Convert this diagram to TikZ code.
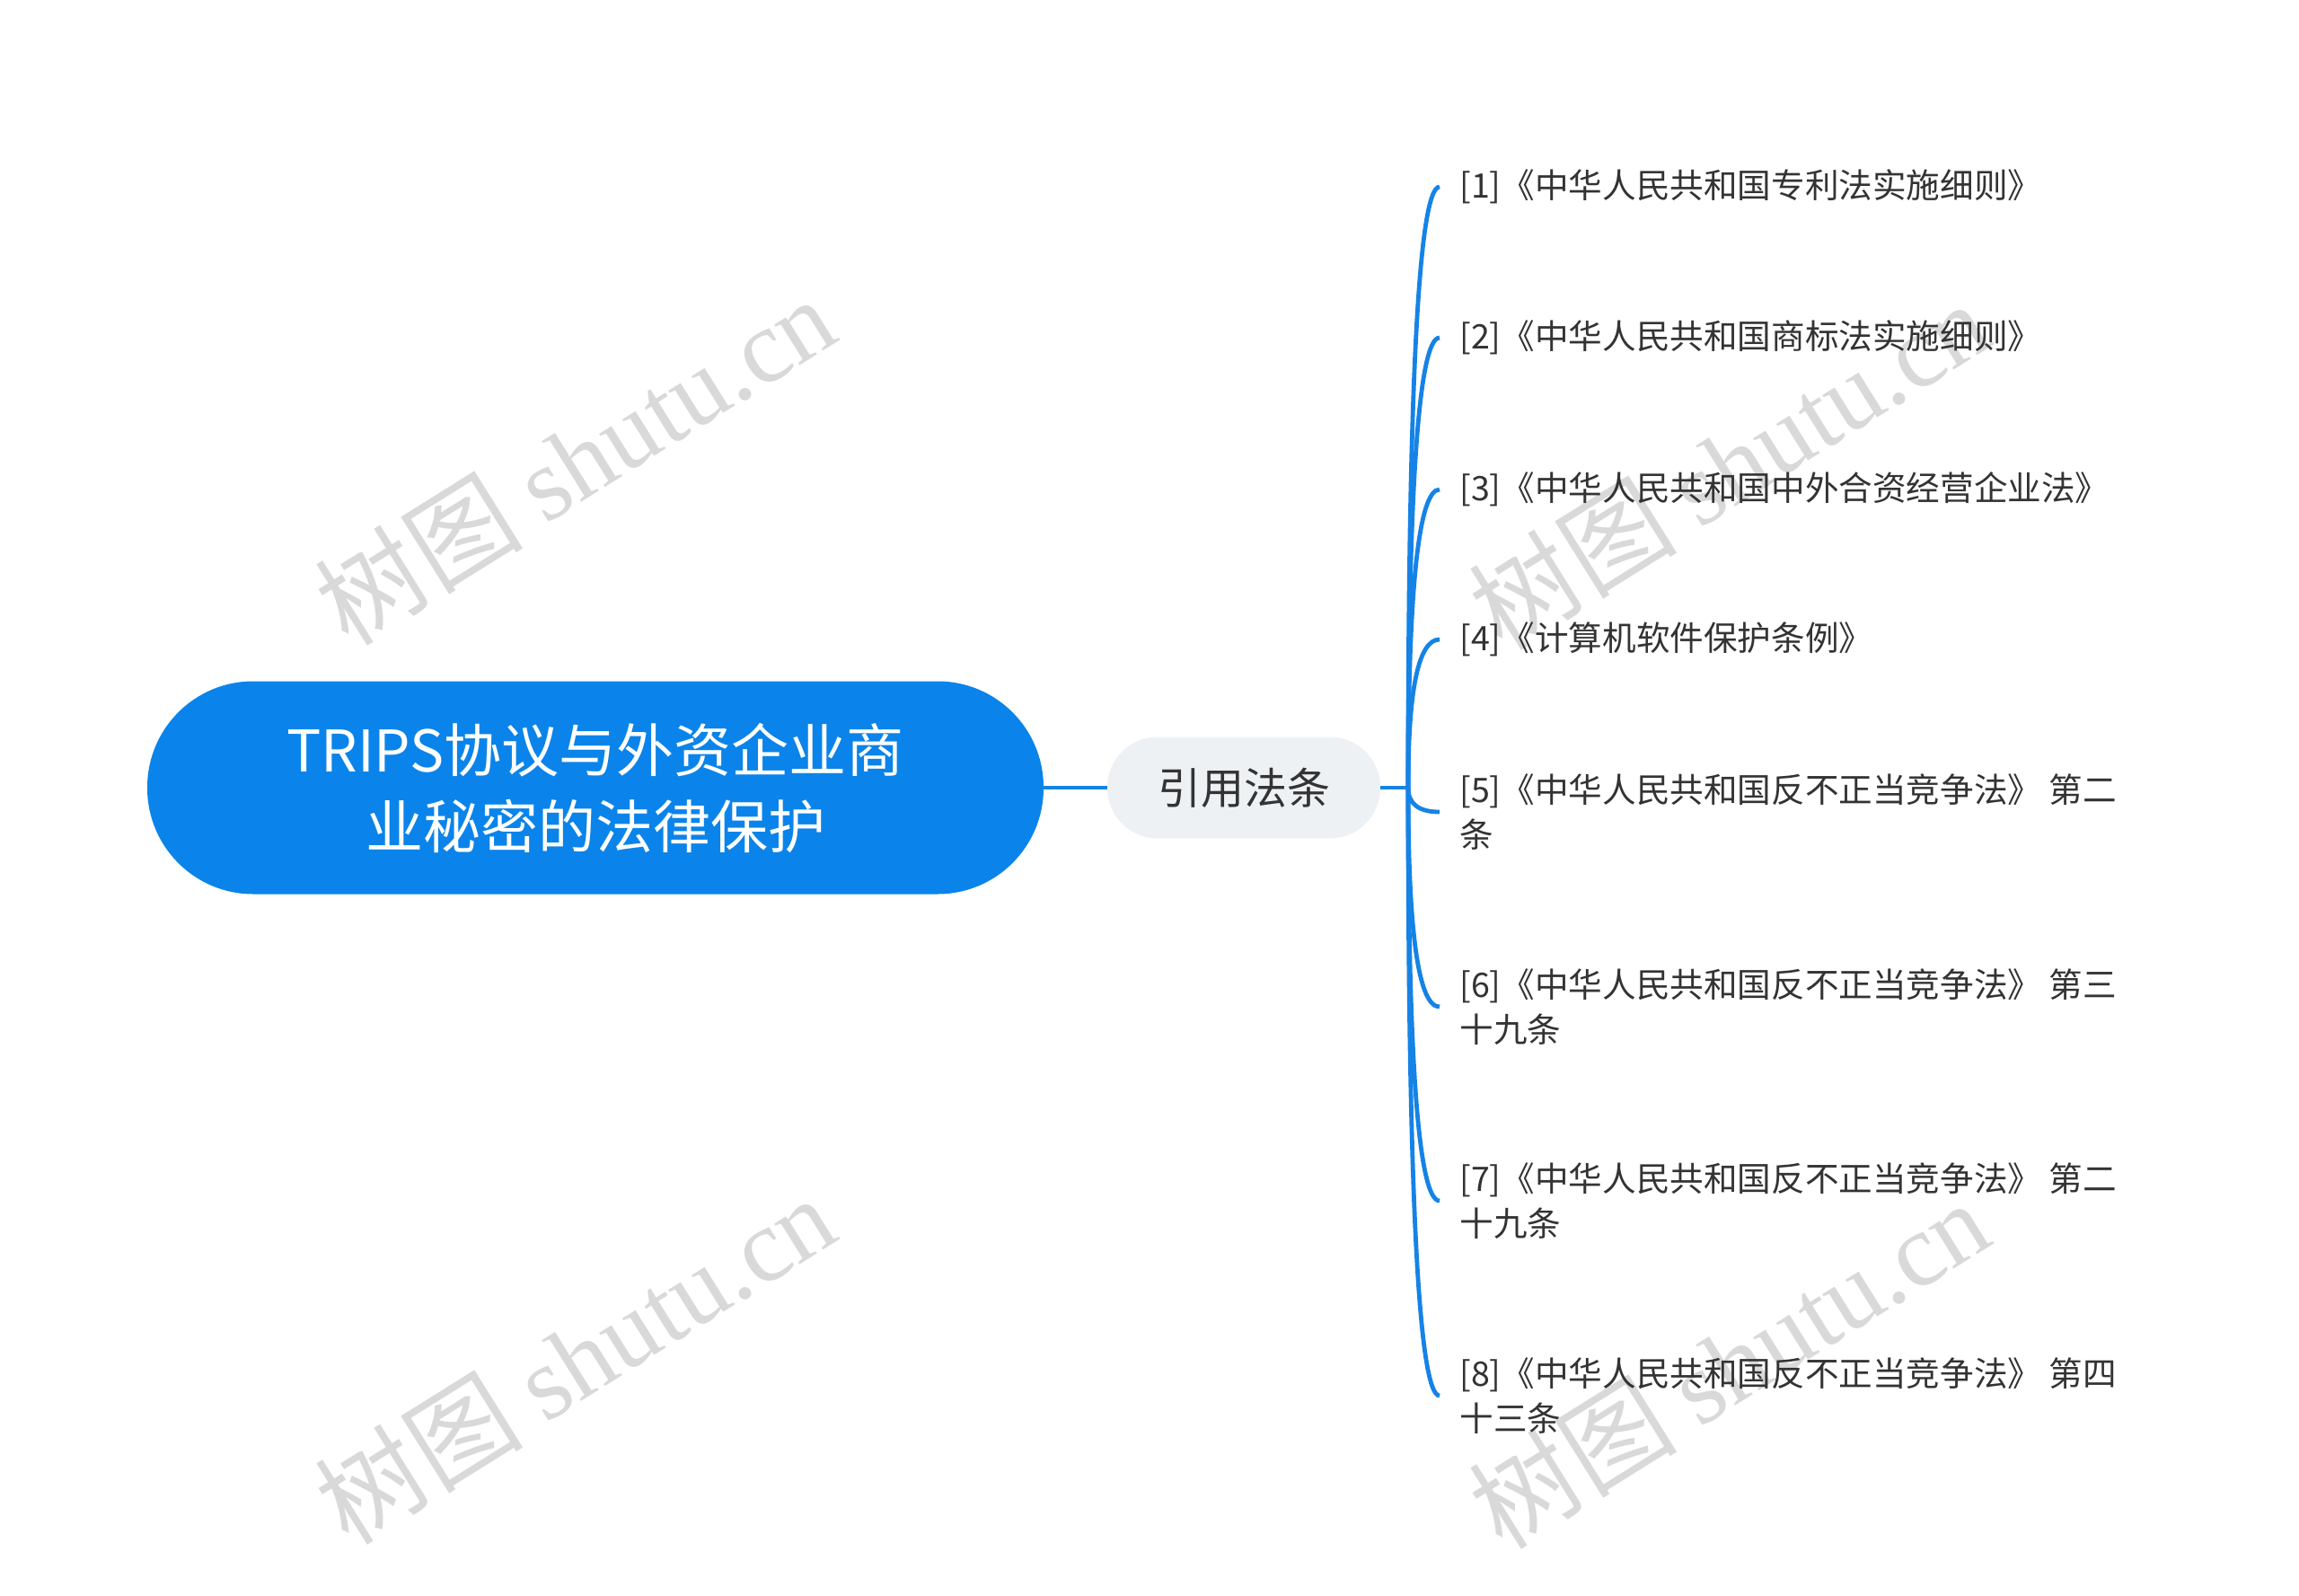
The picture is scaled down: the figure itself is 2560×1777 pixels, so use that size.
\documentclass[tikz,border=0pt]{standalone}
\usepackage{fontspec}
\setmainfont{Noto Sans CJK SC}
\newfontfamily\wmlatin{Liberation Serif}
\usepackage{xcolor}
\usepackage{tikz}
\usetikzlibrary{positioning,calc}

\definecolor{mapblue}{HTML}{0A84EA}
\definecolor{linkblue}{HTML}{1583E6}
\definecolor{subgray}{HTML}{EEF1F4}
\definecolor{leaftext}{HTML}{333333}
\definecolor{wmgray}{HTML}{D9D9D9}

\begin{document}
\begin{tikzpicture}[x=0.5pt, y=-0.5pt,
    root/.style={rectangle, rounded corners=59pt, fill=mapblue, text=white, minimum width=499pt, minimum height=118.5pt, align=center, font=\fontsize{32pt}{42.5pt}\selectfont},
    sub/.style={rectangle, rounded corners=28pt, fill=subgray, text=leaftext, minimum width=152pt, minimum height=56.5pt, font=\fontsize{24pt}{30pt}\selectfont},
    leaf/.style={anchor=west, inner xsep=11pt, inner ysep=3pt, align=left, text=leaftext, font=\fontsize{18.8pt}{25pt}\selectfont},
    edge/.style={draw=linkblue, line width=2.4pt},
    wmark/.style={rotate=32, text=wmgray, font=\fontsize{58pt}{58pt}\selectfont}
]
    \fill[white] (0,0) rectangle (2560,1777);
    \useasboundingbox (0,0) rectangle (2560,1777);

    % watermarks
    \node[wmark] (wm1) at (640,512) {树图 {\wmlatin shutu.cn}};
    \node[wmark] (wm2) at (1925,517) {树图 {\wmlatin shutu.cn}};
    \node[wmark] (wm3) at (640,1513) {树图 {\wmlatin shutu.cn}};
    \node[wmark] (wm4) at (1925,1518) {树图 {\wmlatin shutu.cn}};

    \node[root] (trips) at (663,877) {TRIPS协议与外资企业商\\业秘密的法律保护};
    \node[sub] (cite) at (1385,877) {引用法条};
    \coordinate (hub) at (1568,877);

    \node[leaf] (l1) at (1603,208) {[1]《中华人民共和国专利法实施细则》};
    \node[leaf] (l2) at (1603,376) {[2]《中华人民共和国商标法实施细则》};
    \node[leaf] (l3) at (1603,545) {[3]《中华人民共和国中外合资经营企业法》};
    \node[leaf] (l4) at (1603,712) {[4]《计算机软件保护条例》};
    \node[leaf] (l5) at (1603,904) {[5]《中华人民共和国反不正当竞争法》 第二\\条};
    \node[leaf] (l6) at (1603,1121) {[6]《中华人民共和国反不正当竞争法》 第三\\十九条};
    \node[leaf] (l7) at (1603,1337) {[7]《中华人民共和国反不正当竞争法》 第二\\十九条};
    \node[leaf] (l8) at (1603,1554) {[8]《中华人民共和国反不正当竞争法》 第四\\十三条};

    \draw[edge] (trips) -- (cite);
    \draw[edge] (cite) -- (hub);

    \draw[edge] (hub) .. controls ($(hub)!0.667!(hub |- l1.west)$) and ($(l1.west)!0.667!(hub |- l1.west)$) .. (l1.west);
    \draw[edge] (hub) .. controls ($(hub)!0.667!(hub |- l2.west)$) and ($(l2.west)!0.667!(hub |- l2.west)$) .. (l2.west);
    \draw[edge] (hub) .. controls ($(hub)!0.667!(hub |- l3.west)$) and ($(l3.west)!0.667!(hub |- l3.west)$) .. (l3.west);
    \draw[edge] (hub) .. controls ($(hub)!0.667!(hub |- l4.west)$) and ($(l4.west)!0.667!(hub |- l4.west)$) .. (l4.west);
    \draw[edge] (hub) .. controls ($(hub)!0.667!(hub |- l5.west)$) and ($(l5.west)!0.667!(hub |- l5.west)$) .. (l5.west);
    \draw[edge] (hub) .. controls ($(hub)!0.667!(hub |- l6.west)$) and ($(l6.west)!0.667!(hub |- l6.west)$) .. (l6.west);
    \draw[edge] (hub) .. controls ($(hub)!0.667!(hub |- l7.west)$) and ($(l7.west)!0.667!(hub |- l7.west)$) .. (l7.west);
    \draw[edge] (hub) .. controls ($(hub)!0.667!(hub |- l8.west)$) and ($(l8.west)!0.667!(hub |- l8.west)$) .. (l8.west);
\end{tikzpicture}
\end{document}
